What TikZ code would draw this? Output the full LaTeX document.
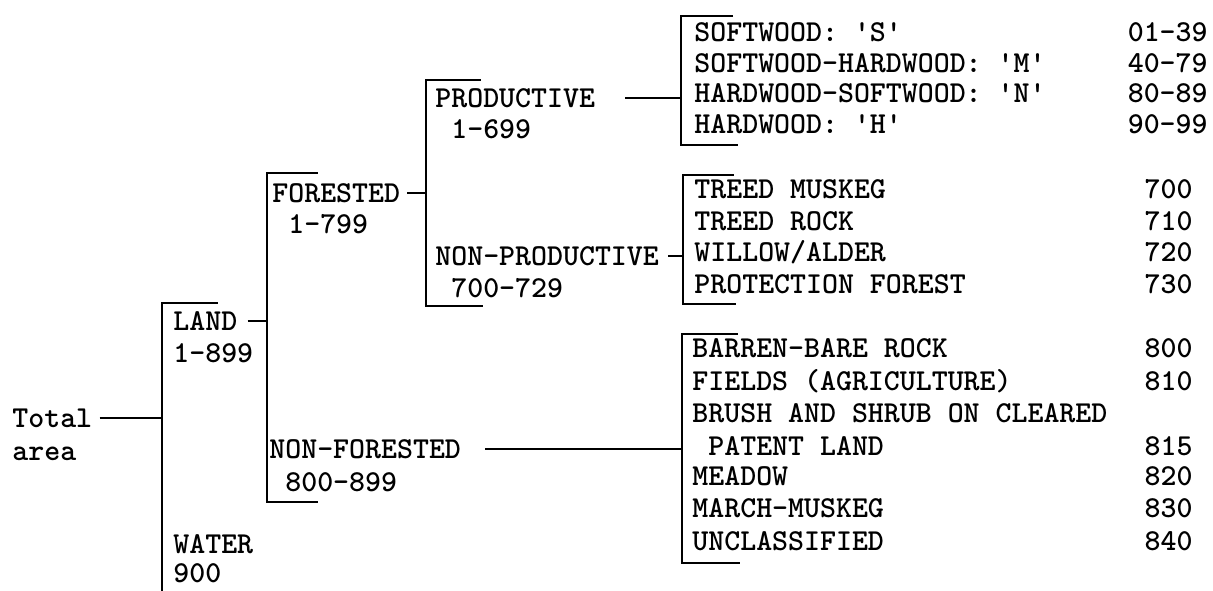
\documentclass[tikz,border=0pt]{standalone}
\usepackage{tikz}

\begin{document}
\begin{tikzpicture}[
  x=0.5pt, y=-0.5pt,
  lbl/.style={anchor=base west, inner sep=0pt, font=\ttfamily\bfseries\fontsize{15.2}{16}\selectfont},
  code/.style={anchor=base east, inner sep=0pt, font=\ttfamily\bfseries\fontsize{15.2}{16}\selectfont},
  wire/.style={line width=1pt}
]
\useasboundingbox (0,0) rectangle (1213,590);

% categories
\node[lbl] (total) at (12,427) {Total};
\node[lbl] (area) at (12,460) {area};
\node[lbl] (land) at (173,330) {LAND};
\node[lbl] (landno) at (173,362) {1-899};
\node[lbl] (water) at (173,553) {WATER};
\node[lbl] (waterno) at (173,582) {900};
\node[lbl] (forested) at (272,202) {FORESTED};
\node[lbl] (forestedno) at (272,233) {\ 1-799};
\node[lbl] (nonfor) at (269,458) {NON-FORESTED};
\node[lbl] (nonforno) at (269,491) {\ 800-899};
\node[lbl] (prod) at (435,107) {PRODUCTIVE};
\node[lbl] (prodno) at (435,138) {\ 1-699};
\node[lbl] (nonprod) at (435,265) {NON-PRODUCTIVE};
\node[lbl] (nonprodno) at (435,297) {\ 700-729};

% productive types
\node[lbl] (sw) at (694,41) {SOFTWOOD: 'S'};
\node[lbl] (swhw) at (694,72) {SOFTWOOD-HARDWOOD: 'M'};
\node[lbl] (hwsw) at (694,102) {HARDWOOD-SOFTWOOD: 'N'};
\node[lbl] (hw) at (694,133) {HARDWOOD: 'H'};
\node[code] (swno) at (1208,41) {01-39};
\node[code] (swhwno) at (1208,72) {40-79};
\node[code] (hwswno) at (1208,102) {80-89};
\node[code] (hwno) at (1208,133) {90-99};

% non-productive types
\node[lbl] (muskeg) at (694,198) {TREED MUSKEG};
\node[lbl] (rock) at (694,230) {TREED ROCK};
\node[lbl] (willow) at (694,261) {WILLOW/ALDER};
\node[lbl] (protect) at (694,293) {PROTECTION FOREST};
\node[code] (muskegno) at (1193,198) {700};
\node[code] (rockno) at (1193,230) {710};
\node[code] (willowno) at (1193,261) {720};
\node[code] (protectno) at (1193,293) {730};

% non-forested types
\node[lbl] (barren) at (692,357) {BARREN-BARE ROCK};
\node[lbl] (fields) at (692,390) {FIELDS (AGRICULTURE)};
\node[lbl] (brush) at (692,422) {BRUSH AND SHRUB ON CLEARED};
\node[lbl] (patent) at (692,455) {\ PATENT LAND};
\node[lbl] (meadow) at (692,485) {MEADOW};
\node[lbl] (march) at (692,517) {MARCH-MUSKEG};
\node[lbl] (unclass) at (692,550) {UNCLASSIFIED};
\node[code] (barrenno) at (1193,357) {800};
\node[code] (fieldsno) at (1193,390) {810};
\node[code] (patentno) at (1193,455) {815};
\node[code] (meadowno) at (1193,485) {820};
\node[code] (marchno) at (1193,517) {830};
\node[code] (unclassno) at (1193,550) {840};

% brackets
\coordinate (b1t) at (161.5,303);
\coordinate (b1b) at (161.5,595);
\coordinate (b2t) at (266.5,173);
\coordinate (b2b) at (266.5,501.5);
\coordinate (b3t) at (425.5,79.5);
\coordinate (b3b) at (425.5,306);
\coordinate (b4t) at (681,16);
\coordinate (b4b) at (681,145);
\coordinate (b5t) at (682.5,175);
\coordinate (b5b) at (682.5,304);
\coordinate (b6t) at (681.5,333.5);
\coordinate (b6b) at (681.5,563);

\draw[wire] ([xshift=28pt]b1t) -- (b1t) -- (b1b);
\draw[wire] ([xshift=25.5pt]b2t) -- (b2t) -- (b2b) -- ([xshift=25.5pt]b2b);
\draw[wire] ([xshift=27.5pt]b3t) -- (b3t) -- (b3b) -- ([xshift=28.5pt]b3b);
\draw[wire] ([xshift=26pt]b4t) -- (b4t) -- (b4b) -- ([xshift=28.5pt]b4b);
\draw[wire] ([xshift=25.5pt]b5t) -- (b5t) -- (b5b) -- ([xshift=26.5pt]b5b);
\draw[wire] ([xshift=28pt]b6t) -- (b6t) -- (b6b) -- ([xshift=29pt]b6b);

% stems
\draw[wire] ([xshift=3.5pt]total.east) -- (total.east -| b1t);
\draw[wire] ([xshift=5pt]land.east) -- (land.east -| b2t);
\draw[wire] ([xshift=3.5pt]forested.east) -- (forested.east -| b3t);
\draw[wire] ([xshift=15pt]prod.east) -- (prod.east -| b4t);
\draw[wire] ([xshift=4.5pt]nonprod.east) -- (nonprod.east -| b5t);
\draw[wire] ([xshift=12pt]nonfor.east) -- (nonfor.east -| b6t);
\end{tikzpicture}
\end{document}
